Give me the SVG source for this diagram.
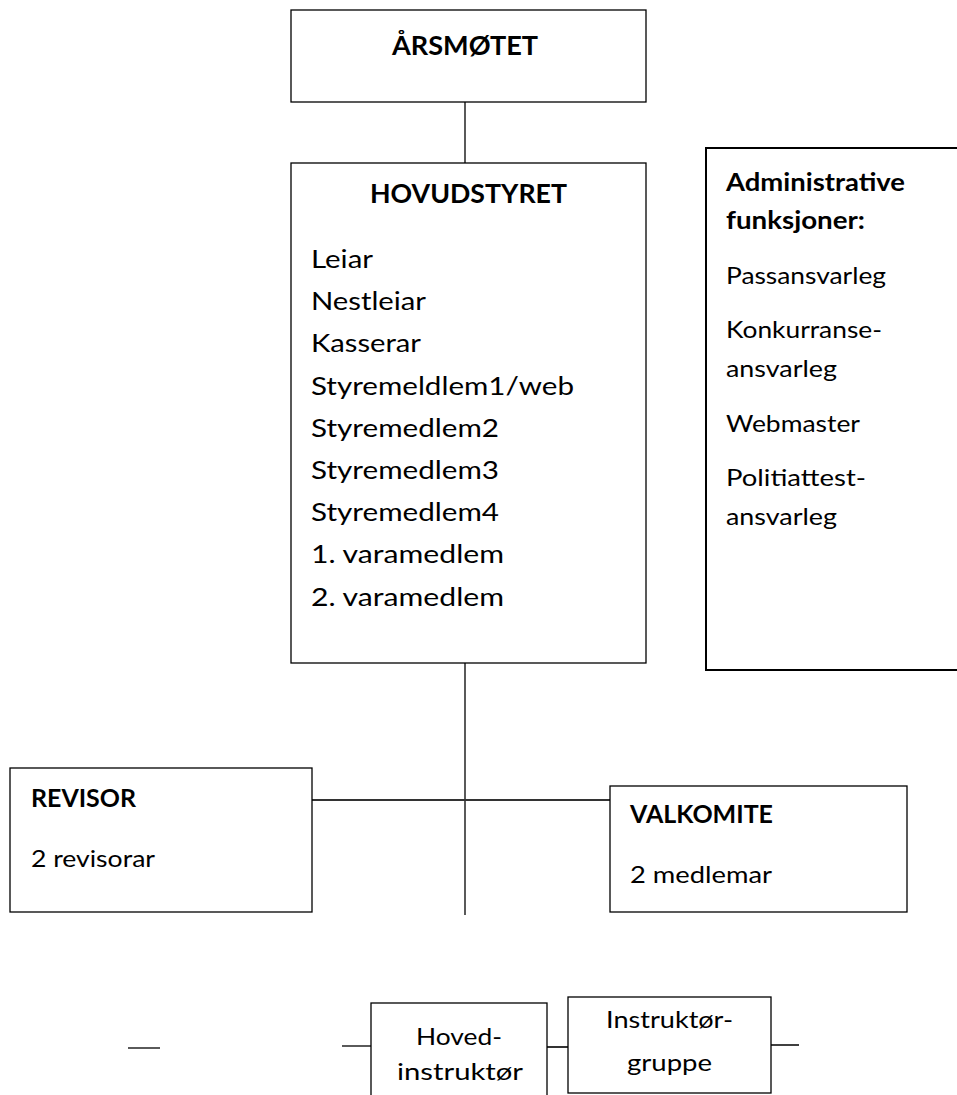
<svg xmlns="http://www.w3.org/2000/svg" width="957" height="1095" viewBox="0 0 957 1095">
<style>
.box{fill:#fff;stroke:#000;stroke-width:1.3}
.thick{fill:#fff;stroke:#000;stroke-width:2}
.ln{stroke:#000;stroke-width:1.3;fill:none}
.ln2{stroke:#333;stroke-width:2;fill:none}
text{font-family:Lato,"Open Sans","Liberation Sans",sans-serif;fill:#000}
.b{font-weight:bold}
.t{font-size:25px}
.h{font-size:26px}
.s{font-size:24px}
.c{text-anchor:middle}
.n{font-size:23px}
</style>
<rect width="957" height="1095" fill="#fff"/>
<g id="connectors">
<line class="ln" x1="465" y1="102" x2="465" y2="163"/>
<line class="ln" x1="465" y1="588" x2="465" y2="915"/>
<line class="ln2" x1="312" y1="800" x2="610" y2="800"/>
<line class="ln" x1="128" y1="1048" x2="160" y2="1048"/>
<line class="ln" x1="342" y1="1046" x2="371" y2="1046"/>
<line class="ln2" x1="547" y1="1047" x2="570" y2="1047"/>
<line class="ln" x1="765" y1="1045" x2="799" y2="1045"/>
</g>
<g id="aarsmotet">
<rect class="box" x="291" y="10" width="355" height="92"/>
<text class="b h c" x="465" y="55" textLength="146" lengthAdjust="spacingAndGlyphs">ÅRSMØTET</text>
</g>
<g id="hovudstyret">
<rect class="box" x="291" y="163" width="355" height="500"/>
<text class="b h c" x="468.5" y="203" textLength="197" lengthAdjust="spacingAndGlyphs">HOVUDSTYRET</text>
<text class="t" x="311" y="268" textLength="62" lengthAdjust="spacingAndGlyphs">Leiar</text>
<text class="t" x="311" y="310" textLength="115" lengthAdjust="spacingAndGlyphs">Nestleiar</text>
<text class="t" x="311" y="352" textLength="110" lengthAdjust="spacingAndGlyphs">Kasserar</text>
<text class="t" x="311" y="395" textLength="263" lengthAdjust="spacingAndGlyphs">Styremeldlem1/web</text>
<text class="t" x="311" y="437" textLength="188" lengthAdjust="spacingAndGlyphs">Styremedlem2</text>
<text class="t" x="311" y="479" textLength="188" lengthAdjust="spacingAndGlyphs">Styremedlem3</text>
<text class="t" x="311" y="521" textLength="188" lengthAdjust="spacingAndGlyphs">Styremedlem4</text>
<text class="t" x="311" y="563" textLength="193" lengthAdjust="spacingAndGlyphs">1. varamedlem</text>
<text class="t" x="311" y="606" textLength="193" lengthAdjust="spacingAndGlyphs">2. varamedlem</text>
</g>
<g id="admin">
<rect class="thick" x="706" y="148" width="256" height="522"/>
<text class="b s" x="726" y="191" textLength="179" lengthAdjust="spacingAndGlyphs">Administrative</text>
<text class="b s" x="726" y="229" textLength="139" lengthAdjust="spacingAndGlyphs">funksjoner:</text>
<text class="s" x="726" y="284" textLength="160" lengthAdjust="spacingAndGlyphs">Passansvarleg</text>
<text class="s" x="726" y="338" textLength="156" lengthAdjust="spacingAndGlyphs">Konkurranse-</text>
<text class="s" x="726" y="377" textLength="111" lengthAdjust="spacingAndGlyphs">ansvarleg</text>
<text class="s" x="726" y="432" textLength="134" lengthAdjust="spacingAndGlyphs">Webmaster</text>
<text class="s" x="726" y="486" textLength="140" lengthAdjust="spacingAndGlyphs">Politiattest-</text>
<text class="s" x="726" y="525" textLength="111" lengthAdjust="spacingAndGlyphs">ansvarleg</text>
</g>
<g id="revisor">
<rect class="box" x="10" y="768" width="302" height="144"/>
<text class="b s" x="31" y="807" textLength="105" lengthAdjust="spacingAndGlyphs">REVISOR</text>
<text class="s" x="31" y="867" textLength="124" lengthAdjust="spacingAndGlyphs">2 revisorar</text>
</g>
<g id="valkomite">
<rect class="box" x="610" y="786" width="297" height="126"/>
<text class="b s" x="630" y="823" textLength="143" lengthAdjust="spacingAndGlyphs">VALKOMITE</text>
<text class="s" x="630" y="883" textLength="142" lengthAdjust="spacingAndGlyphs">2 medlemar</text>
</g>
<g id="hovedinstruktor">
<rect class="box" x="371" y="1003" width="176" height="100"/>
<text class="n c" x="459" y="1045" textLength="86" lengthAdjust="spacingAndGlyphs">Hoved-</text>
<text class="n c" x="460" y="1080" textLength="126" lengthAdjust="spacingAndGlyphs">instruktør</text>
</g>
<g id="instruktorgruppe">
<rect class="box" x="568" y="997" width="203" height="96"/>
<text class="n c" x="669.5" y="1028" textLength="127" lengthAdjust="spacingAndGlyphs">Instruktør-</text>
<text class="n c" x="669.5" y="1071" textLength="85" lengthAdjust="spacingAndGlyphs">gruppe</text>
</g>
</svg>
